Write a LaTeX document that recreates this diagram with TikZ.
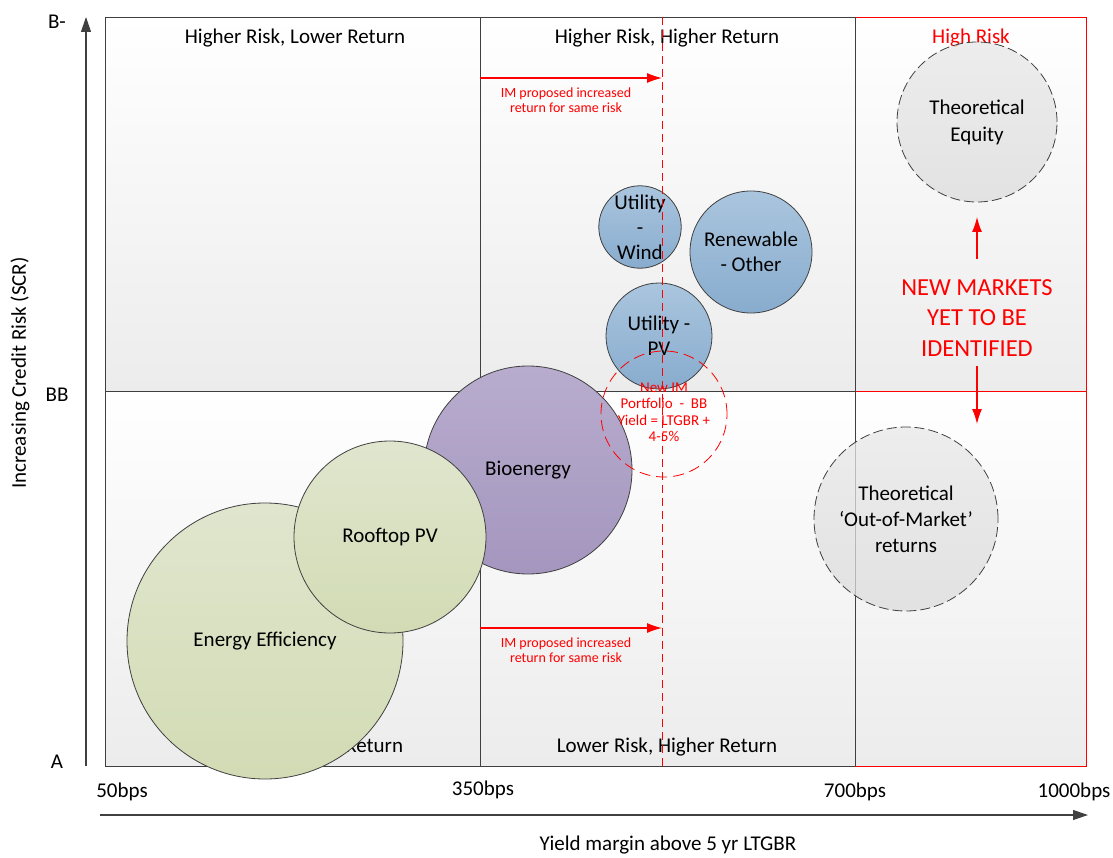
\documentclass[tikz,border=0pt]{standalone}
\usepackage{fontspec}
\setmainfont{Carlito}
\usepackage{xcolor}
\usepackage{tikz}
\usetikzlibrary{shapes,positioning,arrows.meta}

\definecolor{cellgray}{RGB}{236,236,236}
\definecolor{darkline}{RGB}{64,64,64}
\definecolor{bluetop}{RGB}{170,197,222}
\definecolor{bluebot}{RGB}{136,172,206}
\definecolor{purtop}{RGB}{184,172,206}
\definecolor{purbot}{RGB}{164,150,190}
\definecolor{grntop}{RGB}{224,230,206}
\definecolor{grnbot}{RGB}{210,219,180}
\definecolor{thtop}{RGB}{232,232,232}
\definecolor{thbot}{RGB}{220,220,220}
\definecolor{imred}{RGB}{255,0,0}

\begin{document}
\begin{tikzpicture}[x=1pt,y=-1pt,font=\fontsize{21}{25}\selectfont,
    cell/.style={top color=white,bottom color=cellgray,draw=darkline,line width=0.8pt},
    bubble/.style={circle,draw=darkline,line width=0.8pt,align=center,inner sep=0pt},
    blue/.style={bubble,top color=bluetop,bottom color=bluebot},
    purple/.style={bubble,top color=purtop,bottom color=purbot},
    green/.style={bubble,top color=grntop,bottom color=grnbot},
    theory/.style={bubble,top color=thtop,bottom color=thbot,fill opacity=0.75,text opacity=1,dash pattern=on 10pt off 4pt},
    imarrow/.style={-{Latex[length=15pt,width=10pt]},imred,line width=1.2pt},
    axis/.style={-{Triangle[length=15pt,width=10pt]},darkline,line width=1.2pt},
    redtext/.style={text=imred,align=center,font=\fontsize{14}{15.5}\selectfont}]
    \useasboundingbox (0,0) rectangle (1113,858);
    % grid of cells
    \path[cell] (105,17) rectangle (480,391);
    \path[cell] (480,17) rectangle (855,391);
    \path[cell] (105,391) rectangle (480,766);
    \path[cell] (480,391) rectangle (855,766);
    \path[cell,draw=imred] (855,17) rectangle (1086,391);
    \path[cell,draw=imred] (855,391) rectangle (1086,766);
    \draw[darkline,line width=0.8pt] (855,17) -- (855,766);
    \node (hl) at (295,38) {Higher Risk, Lower Return};
    \node (hh) at (667,38) {Higher Risk, Higher Return};
    \node[text=imred] (hr) at (971,38) {High Risk};
    \node (ll) at (295,747) {Lower Risk, Lower Return};
    \node (lh) at (667,747) {Lower Risk, Higher Return};
    % axes
    \coordinate (ybot) at (86,766);
    \coordinate (ytop) at (86,17);
    \coordinate (xleft) at (100,815);
    \coordinate (xright) at (1088,815);
    \draw[axis] (ybot) -- (ytop);
    \draw[axis] (xleft) -- (xright);
    \node (bminus) at (57,22) {B-};
    \node (bb) at (57,395) {BB};
    \node (a) at (57,762) {A};
    \node[rotate=90] (ylab) at (20,373) {Increasing Credit Risk (SCR)};
    \node (t50) at (122,792) {50bps};
    \node (t350) at (483,790) {350bps};
    \node (t700) at (855,792) {700bps};
    \node (t1000) at (1074,792) {1000bps};
    \node (xlab) at (668,845) {Yield margin above 5 yr LTGBR};
    % bubbles
    \node[green,minimum size=276pt] (ee) at (265,641) {Energy Efficiency};
    \node[purple,minimum size=208pt] (bio) at (528,470) {Bioenergy};
    \node[green,minimum size=192pt] (roof) at (390,537) {Rooftop PV};
    \node[blue,minimum size=80pt] (wind) at (640,227) {Utility\\-\\Wind};
    \node[blue,minimum size=122pt] (other) at (751,252) {Renewable\\- Other};
    \node[blue,minimum size=106pt] (pv) at (659,336) {Utility -\\PV};
    \node[theory,minimum size=160pt,font=\fontsize{21}{27}\selectfont] (equity) at (977,122) {Theoretical\\Equity};
    \node[theory,minimum size=184pt,font=\fontsize{21}{26}\selectfont] (oom) at (906,519) {Theoretical\\‘Out-of-Market’\\returns};
    % new IM portfolio
    \coordinate (dtop) at (662,17);
    \coordinate (dbot) at (662,766);
    \draw[imred,line width=1pt,dash pattern=on 8pt off 5pt] (dtop) -- (dbot);
    \node[circle,draw=imred,line width=0.8pt,dash pattern=on 11pt off 6pt,minimum size=126pt,inner sep=0pt] (im) at (664,414) {};
    \node[redtext,font=\fontsize{15}{16.5}\selectfont] (imtext) at (664,412) {New IM\\Portfolio \ - \ BB\\Yield = LTGBR +\\4-5\%};
    % proposed return arrows
    \coordinate (upA) at (480,78);
    \coordinate (upB) at (662,78);
    \coordinate (loA) at (480,628);
    \coordinate (loB) at (662,628);
    \draw[imarrow] (upA) -- (upB);
    \draw[imarrow] (loA) -- (loB);
    \node[redtext] (uptext) at (566,100) {IM proposed increased\\return for same risk};
    \node[redtext] (lotext) at (566,650) {IM proposed increased\\return for same risk};
    % new markets
    \node[text=imred,align=center,font=\fontsize{24.5}{30.5}\selectfont] (newm) at (977,318) {NEW MARKETS\\YET TO BE\\IDENTIFIED};
    \coordinate (nmup) at (977,259);
    \coordinate (nmuptip) at (977,217);
    \coordinate (nmdown) at (977,366);
    \coordinate (nmdowntip) at (977,424);
    \draw[imarrow] (nmup) -- (nmuptip);
    \draw[imarrow] (nmdown) -- (nmdowntip);
\end{tikzpicture}
\end{document}
